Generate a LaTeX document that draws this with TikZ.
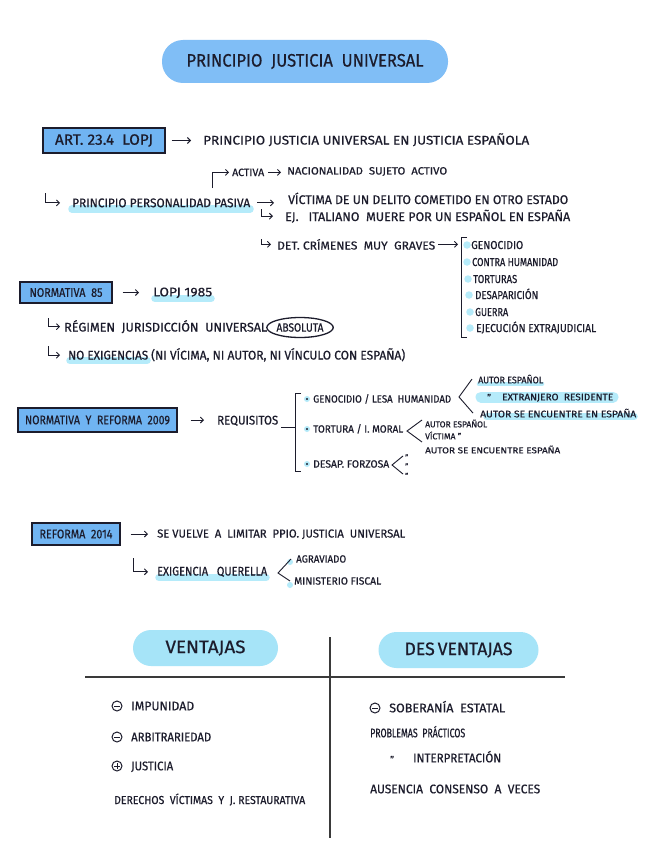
\documentclass[tikz,border=0pt]{standalone}
\usepackage{fontspec}
\usepackage{graphicx}
\setmainfont{Fira Sans}[FakeBold=0.6]
\usetikzlibrary{arrows.meta,shapes.geometric}
\definecolor{ink}{HTML}{1C1C2C}
\definecolor{pillblue}{HTML}{80BEF6}
\definecolor{boxblue}{HTML}{70B4F2}
\definecolor{hl}{HTML}{B5EBFA}
\definecolor{pillcyan}{HTML}{A6E4F8}
\definecolor{rule}{HTML}{3A3A3A}
\newcommand{\fitw}[2]{\resizebox{#1pt}{\height}{#2}}
\begin{document}
\begin{tikzpicture}[x=1pt,y=-1pt,
  txt/.style={anchor=base west, inner sep=0pt, text=ink, font=\fontsize{12.5}{14}\selectfont},
  txs/.style={txt, font=\fontsize{10.5}{12}\selectfont},
  txx/.style={txt, font=\fontsize{9.5}{11}\selectfont},
  txm/.style={txt, font=\fontsize{11.5}{13}\selectfont},
  bluebox/.style={draw=ink, line width=1.4pt, fill=boxblue, inner sep=0pt, text=ink, font=\fontsize{12.5}{14}\selectfont},
  arrw/.style={ink, line width=0.9pt, -{Straight Barb[length=3pt,width=6pt]}},
  inkline/.style={ink, line width=0.9pt},
  hiline/.style={hl, line width=7.5pt, line cap=round},
  cyandot/.style={circle, fill=hl, inner sep=0pt, minimum size=7.5pt},
  pill/.style={fill=pillcyan, rounded corners=18pt, inner sep=0pt, minimum height=36pt, text=ink, font=\fontsize{18}{20}\selectfont},
  minussym/.style={circle, draw=ink, line width=1pt, minimum size=10pt, inner sep=0pt,
    path picture={\draw[ink, line width=1pt] ([xshift=-3pt]path picture bounding box.center) -- ([xshift=3pt]path picture bounding box.center);}},
  plussym/.style={minussym,
    path picture={\draw[ink, line width=1pt] ([xshift=-3pt]path picture bounding box.center) -- ([xshift=3pt]path picture bounding box.center)
      ([yshift=-3pt]path picture bounding box.center) -- ([yshift=3pt]path picture bounding box.center);}}
]
\useasboundingbox (0,0) rectangle (656,848);
\fill[white] (0,0) rectangle (656,848);

% ---------- highlights (behind text)
\draw[hiline] (72,209) -- (250,209);
\draw[hiline] (155,298.5) -- (211,298.5);
\draw[hiline] (70,360.5) -- (147,360.5);
\draw[hiline, line width=4.5pt] (479,384) -- (542,384);
\draw[hiline, line width=11pt] (481,397) -- (613,397);
\draw[hiline] (487,416.5) -- (634,416.5);
\draw[hiline] (159,577.5) -- (266,577.5);
\fill[hl] (290,562) circle (3pt);
\fill[hl] (290,585) circle (3pt);

% ---------- title
\node[fill=pillblue, rounded corners=21pt, minimum width=286pt, minimum height=43pt, inner sep=0pt,
      text=ink, font=\fontsize{18}{20}\selectfont] (title) at (305,61.5)
      {\fitw{237}{PRINCIPIO\ \ JUSTICIA\ \ UNIVERSAL}};

% ---------- ART. 23.4 LOPJ
\node[bluebox, minimum width=122pt, minimum height=25pt, font=\fontsize{15}{17}\selectfont] (art) at (104,140.5)
      {\fitw{98}{ART.\ 23.4\ \ LOPJ}};
\node[txt] (t1) at (203,144.5) {\fitw{326}{PRINCIPIO JUSTICIA UNIVERSAL EN JUSTICIA ESPAÑOLA}};
\draw[arrw] ([xshift=6pt]art.east) -- ([xshift=-12pt]art.east -| t1.west);

\node[txs] (activa) at (232,176) {\fitw{32}{ACTIVA}};
\node[txs] (nac) at (287,174.5) {\fitw{160}{NACIONALIDAD\ \ SUJETO\ \ ACTIVO}};
\node[txt] (pasiva) at (72,207.2) {\fitw{178}{PRINCIPIO PERSONALIDAD PASIVA}};
\node[txt] (victima) at (288,204) {\fitw{280}{VÍCTIMA DE UN DELITO COMETIDO EN OTRO ESTADO}};
\node[txt] (ej) at (285,221) {\fitw{285}{EJ.\ \ \ ITALIANO\ \ MUERE POR UN ESPAÑOL EN ESPAÑA}};
\node[txm] (det) at (277,249.5) {\fitw{158}{DET.\ CRÍMENES\ \ MUY\ \ GRAVES}};

\coordinate (c1) at (212,188);
\draw[arrw] (c1) |- ([xshift=-3pt]activa.west);
\draw[arrw] ([xshift=4pt]activa.east) -- ([xshift=-6pt]activa.east -| nac.west);
\coordinate (h1) at (45,193);
\draw[arrw] (h1) |- ([xshift=-12pt]pasiva.west);
\draw[arrw] ([xshift=7pt]pasiva.east) -- ([xshift=-14pt]pasiva.east -| victima.west);
\coordinate (h2) at (261,209);
\draw[arrw] (h2) |- ([xshift=-12pt]ej.west);
\coordinate (h3) at (261,239);
\draw[arrw] (h3) |- ([xshift=-6pt]det.west);

% crimes list
\coordinate (bk1) at (458,245);
\draw[arrw] ([xshift=3pt]det.east) -- (det.east -| bk1);
\draw[inkline] (467,237) -- (461,237) -- (461,337) -- (467,337);
\node[cyandot] (cd1) at (467,245) {};
\node[cyandot] (cd2) at (467,262) {};
\node[cyandot] (cd3) at (468,279) {};
\node[cyandot] (cd4) at (469,295) {};
\node[cyandot] (cd5) at (470,312) {};
\node[cyandot] (cd6) at (470,328) {};
\node[txm] (cr1) at (471,249) {\fitw{52}{GENOCIDIO}};
\node[txm] (cr2) at (472,266) {\fitw{86}{CONTRA HUMANIDAD}};
\node[txm] (cr3) at (473,283) {\fitw{44}{TORTURAS}};
\node[txm] (cr4) at (475,299) {\fitw{63}{DESAPARICIÓN}};
\node[txm] (cr5) at (475,316) {\fitw{33}{GUERRA}};
\node[txm] (cr6) at (476,332) {\fitw{120}{EJECUCIÓN EXTRAJUDICIAL}};

% ---------- NORMATIVA 85
\node[bluebox, minimum width=92pt, minimum height=21pt] (n85) at (66,292.5) {\fitw{73}{NORMATIVA\ \ 85}};
\node[txt] (lopj) at (153,296.3) {\fitw{59}{LOPJ 1985}};
\draw[arrw] ([xshift=10pt]n85.east) -- ([xshift=-14pt]n85.east -| lopj.west);
\node[txt] (regimen) at (64,331.5) {\fitw{203}{RÉGIMEN\ \ JURISDICCIÓN\ \ UNIVERSAL}};
\node[draw=ink, ellipse, line width=1.3pt, minimum width=66pt, minimum height=20pt, inner sep=0pt,
      text=ink, font=\fontsize{12}{14}\selectfont] (abs) at (300,327.5) {\fitw{47}{ABSOLUTA}};
\coordinate (h4) at (48,318);
\draw[arrw] (h4) |- ([xshift=-4pt]regimen.west);
\node[txt] (noexig) at (68,359.5) {\fitw{80}{NO EXIGENCIAS}};
\node[txt] (paren) at (151,359.5) {\fitw{254}{(NI VÍCIMA, NI AUTOR, NI VÍNCULO CON ESPAÑA)}};
\coordinate (h5) at (48,346);
\draw[arrw] (h5) |- ([xshift=-8pt]noexig.west);

% ---------- NORMATIVA Y REFORMA 2009
\node[bluebox, minimum width=159pt, minimum height=24pt] (n2009) at (97.5,420) {\fitw{145}{NORMATIVA\ \ Y\ \ REFORMA\ \ 2009}};
\node[txt] (req) at (217,424.5) {\fitw{61}{REQUISITOS}};
\draw[arrw] ([xshift=13pt]n2009.east) -- ([xshift=-13pt]n2009.east -| req.west);
\coordinate (bkr) at (295,427);
\draw[inkline] ([xshift=3pt]req.base east |- bkr) -- (bkr);
\draw[inkline] (301,393) -- (295,393) -- (295,471) -- (301,471);

\node[cyandot, minimum size=6pt] (b1) at (307,399) {};
\node[cyandot, minimum size=6pt] (b2) at (307,429) {};
\node[cyandot, minimum size=6pt] (b3) at (307,464) {};
\fill[ink] (b1) circle (1.1pt) (b2) circle (1.1pt) (b3) circle (1.1pt);
\node[txs] (gen) at (313,402.6) {\fitw{138}{GENOCIDIO / LESA\ \ HUMANIDAD}};
\node[txs] (tort) at (313,432.6) {\fitw{90}{TORTURA / I. MORAL}};
\node[txs] (desap) at (313,467.6) {\fitw{76}{DESAP.\ FORZOSA}};

\node[txx] (aut1) at (478,383.3) {\fitw{65}{AUTOR ESPAÑOL}};
\node[txx] (dq1) at (487,401) {"};
\node[txx] (ext) at (502,400.3) {\fitw{111}{EXTRANJERO\ \ RESIDENTE}};
\node[txx] (aut2) at (480,417.3) {\fitw{156}{AUTOR SE ENCUENTRE EN ESPAÑA}};
\coordinate (lt1) at (459,397);
\draw[inkline] ([xshift=-6pt]aut1.west) -- (lt1) -- ([xshift=-7pt]aut2.west);

\node[txx, font=\fontsize{8.5}{10}\selectfont] (ta1) at (425,427.3) {\fitw{62}{AUTOR ESPAÑOL}};
\node[txx, font=\fontsize{8.5}{10}\selectfont] (tv) at (425,439.3) {\fitw{36}{VÍCTIMA "}};
\node[txx, font=\fontsize{8.5}{10}\selectfont] (ta2) at (425,453.3) {\fitw{135}{AUTOR SE ENCUENTRE ESPAÑA}};
\coordinate (lt2a) at (422,420);
\coordinate (lt2) at (407,431);
\coordinate (lt2b) at (422,442);
\draw[inkline] (lt2a) -- (lt2) -- (lt2b);

\coordinate (lt3a) at (403,456);
\coordinate (lt3) at (392,465);
\coordinate (lt3b) at (403,474);
\draw[inkline] (lt3a) -- (lt3) -- (lt3b);
\node[txx, font=\fontsize{7.5}{8}\selectfont] (dd1) at (405,460) {"};
\node[txx, font=\fontsize{7.5}{8}\selectfont] (dd2) at (405,469) {"};
\node[txx, font=\fontsize{7.5}{8}\selectfont] (dd3) at (405,478.5) {"};

% ---------- REFORMA 2014
\node[bluebox, minimum width=88pt, minimum height=22pt] (r14) at (76,534) {\fitw{73}{REFORMA\ \ 2014}};
\node[txm] (sev) at (157,537.5) {\fitw{248}{SE VUELVE\ \ A\ \ LIMITAR\ \ PPIO. JUSTICIA\ \ UNIVERSAL}};
\draw[arrw] ([xshift=10pt]r14.east) -- ([xshift=-9pt]r14.east -| sev.west);
\node[txt] (exig) at (157,575.5) {\fitw{110}{EXIGENCIA\ \ \ QUERELLA}};
\coordinate (h6) at (133,558);
\draw[arrw] (h6) |- ([xshift=-9pt]exig.west);
\node[txs] (agrav) at (296,562.6) {\fitw{50}{AGRAVIADO}};
\node[txs] (minist) at (294,584.6) {\fitw{87}{MINISTERIO FISCAL}};
\coordinate (lt4) at (278,573);
\draw[inkline] ([xshift=-5pt]agrav.west) -- (lt4) -- ([xshift=-4pt]minist.west);

% ---------- VENTAJAS / DESVENTAJAS
\node[pill, minimum width=145pt] (vent) at (205.5,648) {\fitw{80}{VENTAJAS}};
\node[pill, minimum width=160pt] (desv) at (458.5,650) {\fitw{108}{DES\,VENTAJAS}};
\coordinate (hr0) at (85,677);
\coordinate (hr1) at (565,677);
\coordinate (vr0) at (330,637);
\coordinate (vr1) at (330,838);
\draw[rule, line width=1.3pt] (hr0) -- (hr1);
\draw[rule, line width=1.3pt] (vr0) -- (vr1);

\node[minussym] (m1) at (117,706) {};
\node[txt] (imp) at (131,710.3) {\fitw{63}{IMPUNIDAD}};
\node[minussym] (m2) at (117,737) {};
\node[txt] (arb) at (131,741.3) {\fitw{80}{ARBITRARIEDAD}};
\node[plussym] (p1) at (117,766) {};
\node[txt] (jus) at (131,770.3) {\fitw{42}{JUSTICIA}};
\node[txm] (der) at (114,804) {\fitw{191}{DERECHOS\ \ VÍCTIMAS\ \ Y\ \ J. RESTAURATIVA}};

\node[minussym] (m3) at (375,708) {};
\node[txt] (sob) at (389,712.3) {\fitw{116}{SOBERANÍA\ \ ESTATAL}};
\node[txt] (prob) at (370,737.3) {\fitw{95}{PROBLEMAS\ \ PRÁCTICOS}};
\node[txx] (dq2) at (390,763) {"};
\node[txt] (interp) at (413,762.3) {\fitw{88}{INTERPRETACIÓN}};
\node[txt] (aus) at (370,793.3) {\fitw{170}{AUSENCIA\ \ CONSENSO\ \ A\ \ VECES}};
\end{tikzpicture}
\end{document}
